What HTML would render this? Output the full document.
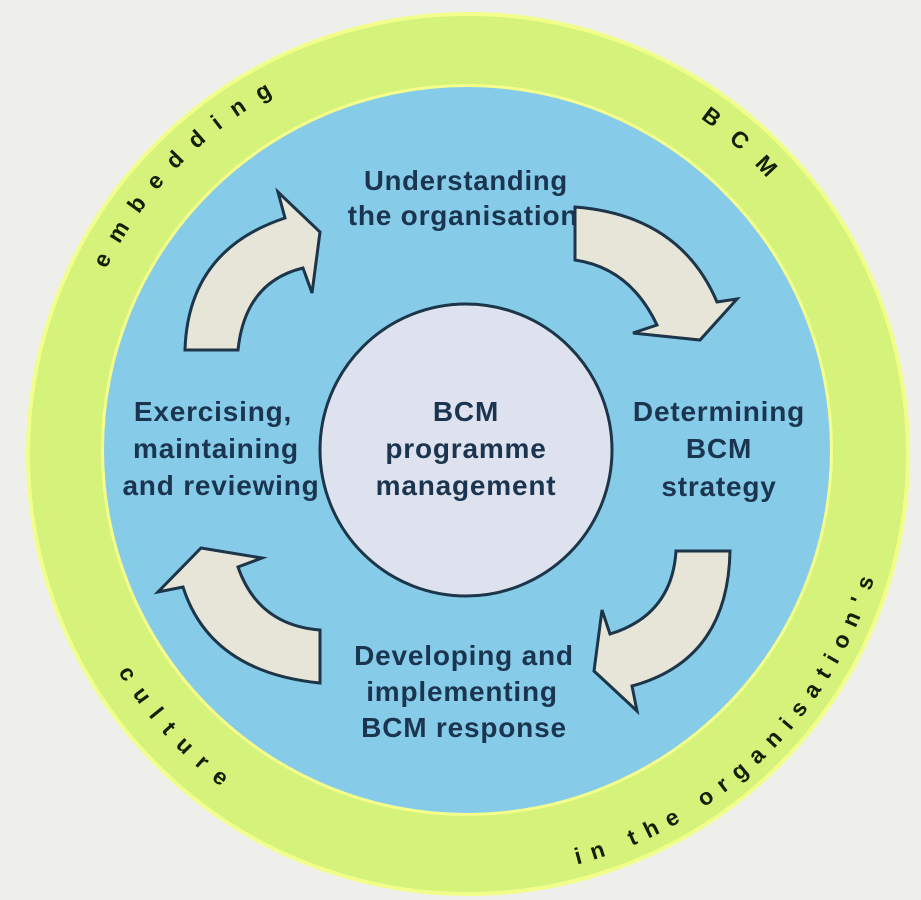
<!DOCTYPE html>
<html><head><meta charset="utf-8"><style>
html,body{margin:0;padding:0;background:#eeefeb;}
svg{display:block}
text{font-family:"Liberation Sans",Arial,sans-serif;font-weight:bold;}
</style></head><body>
<svg width="921" height="900" viewBox="0 0 921 900" xmlns="http://www.w3.org/2000/svg">
<rect width="921" height="900" fill="#eeefeb"/>
<circle cx="468" cy="454" r="440" fill="#d5f27a" stroke="#f1ff8a" stroke-width="4"/>
<circle cx="467" cy="450" r="366" fill="#f4ff8c"/>
<circle cx="467" cy="450" r="363" fill="#86cce8"/>
<circle cx="466" cy="450" r="146" fill="#dde2ee" stroke="#1c3548" stroke-width="3"/>

<g fill="#e7e5d8" stroke="#1c3548" stroke-width="3" stroke-linejoin="miter">
<path d="M185,350 Q188,250 285,218 L278,192 L320,232 L312,293 L303,268 Q245,282 238,350 Z"/>
<path d="M575,207 Q680,215 717,302 L737,299 L700,340 L633,333 L657,325 Q630,268 575,260 Z"/>
<path d="M730,551 Q728,660 632,686 L637,711 L594,671 L602,610 L610,634 Q672,615 676,551 Z"/>
<path d="M320,683 Q210,672 183,587 L158,592 L201,548 L262,558 L238,567 Q258,625 320,630 Z"/>
</g>

<g fill="#1b3550" font-size="28" text-anchor="middle" letter-spacing="0.8">
<text x="466" y="190" textLength="204" lengthAdjust="spacingAndGlyphs">Understanding</text>
<text x="463" y="225">the organisation</text>
<text x="213" y="421">Exercising,</text>
<text x="216" y="458">maintaining</text>
<text x="221" y="495">and reviewing</text>
<text x="466" y="421">BCM</text>
<text x="466" y="458">programme</text>
<text x="466" y="495">management</text>
<text x="719" y="421">Determining</text>
<text x="719" y="458">BCM</text>
<text x="719" y="496">strategy</text>
<text x="464" y="665">Developing and</text>
<text x="462" y="701">implementing</text>
<text x="464" y="737">BCM response</text>
</g>

<defs>
<path id="p1" d="M 106.1 269.1 A 405 405 0 0 1 283.1 89.1"/>
<path id="p2" d="M 700.3 118.2 A 405 405 0 0 1 790.1 206.3"/>
<path id="p3" d="M 577.0 864.5 A 425 425 0 0 0 876.5 571.1"/>
<path id="p4" d="M 118 672 A 415 415 0 0 0 228 792"/>
</defs>
<g fill="#141f08" font-size="23">
<text><textPath href="#p1" textLength="245" lengthAdjust="spacing">embedding</textPath></text>
<text><textPath href="#p2" textLength="90" lengthAdjust="spacing">BCM</textPath></text>
<text><textPath href="#p3" textLength="430" lengthAdjust="spacing">in the organisation's</textPath></text>
<text><textPath href="#p4" textLength="155" lengthAdjust="spacing">culture</textPath></text>
</g>
</svg>
</body></html>
